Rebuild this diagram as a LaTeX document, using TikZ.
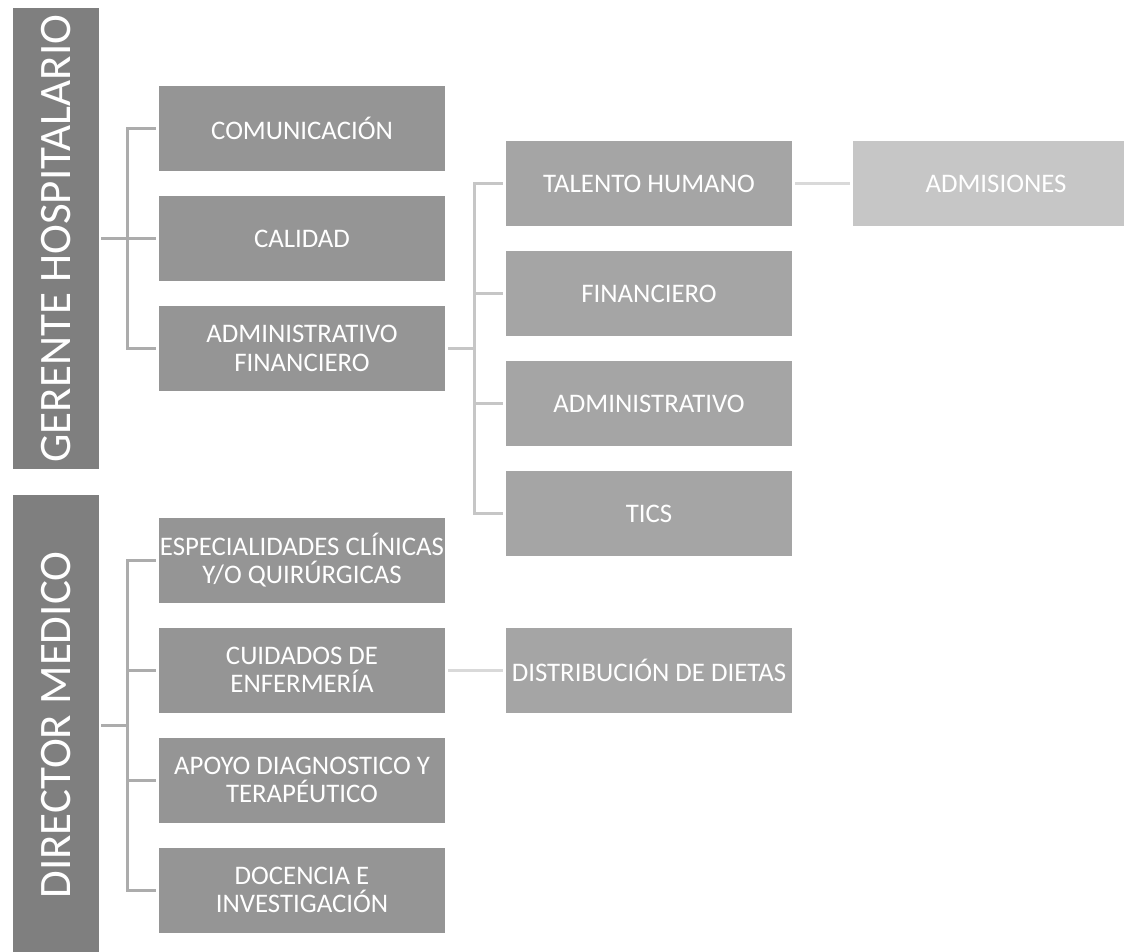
\documentclass[tikz,border=0pt]{standalone}
\usepackage{fontspec}
\setmainfont{Carlito}
\usepackage{tikz}
\usetikzlibrary{positioning}

\definecolor{headgray}{HTML}{7F7F7F}
\definecolor{unitgray}{HTML}{959595}
\definecolor{subgray}{HTML}{A5A5A5}
\definecolor{leafgray}{HTML}{C6C6C6}

\begin{document}
\begin{tikzpicture}[
    node distance=110pt,
    head/.style={
		rectangle,
		rotate=90,
		fill=headgray,
		text=white,
		text centered,
		inner sep=0pt,
		minimum width=461pt,
		minimum height=86pt,
		font=\fontsize{45}{54}\selectfont
	},
	unit/.style={
		rectangle,
		fill=unitgray,
		text=white,
		align=center,
		inner sep=0pt,
		minimum width=286pt,
		minimum height=85pt,
		font=\fontsize{26.8}{28.5}\selectfont
	},
	subunit/.style={
		unit,
		fill=subgray
	},
	leaf/.style={
		unit,
		fill=leafgray
	},
	link/.style={
		line width=3pt,
		draw=#1
	},
	link/.default={gray!65}
  ]

\useasboundingbox (0,0) rectangle (1124pt,-952pt);

% // Gerente hospitalario
 \node [head] (gerente) at (56pt,-238.5pt) {GERENTE HOSPITALARIO};
 \node [unit, right of=gerente, xshift=136pt] (calidad) {CALIDAD};
 \node [unit, above of=calidad] (comunicacion) {COMUNICACIÓN};
 \node [unit, below of=calidad] (adminfin) {ADMINISTRATIVO\\FINANCIERO};

 \draw [link]  ([xshift=2pt]gerente.south) -- ([xshift=-3pt]calidad.west);
 \draw [link]  ([xshift=-3pt]comunicacion.west) -- ++(-28pt,0) |- ([xshift=-3pt]adminfin.west);

% // Administrativo financiero
 \node [subunit, right of=adminfin, xshift=237pt, yshift=165pt] (talento) {TALENTO HUMANO};
 \node [subunit, below of=talento] (financiero) {FINANCIERO};
 \node [subunit, below of=financiero] (administrativo) {ADMINISTRATIVO};
 \node [subunit, below of=administrativo] (tics) {TICS};
 \node [leaf, right of=talento, xshift=237pt] (admisiones) {ADMISIONES};

 \draw [link=gray!45]  ([xshift=3pt]adminfin.east) -- ++(27pt,0);
 \draw [link=gray!45]  ([xshift=-3pt]talento.west) -- ++(-28pt,0) |- ([xshift=-3pt]tics.west);
 \draw [link=gray!45]  ([xshift=-3pt]financiero.west) -- ++(-28pt,0);
 \draw [link=gray!45]  ([xshift=-3pt]administrativo.west) -- ++(-28pt,0);
 \draw [link=gray!30]  ([xshift=3pt]talento.east) -- ([xshift=-3pt]admisiones.west);

% // Director medico
 \node [head] (director) at (56pt,-725pt) {DIRECTOR MEDICO};
 \node [unit, right of=director, xshift=136pt, yshift=165pt] (especialidades) {ESPECIALIDADES CLÍNICAS\\Y/O QUIRÚRGICAS};
 \node [unit, below of=especialidades] (cuidados) {CUIDADOS DE\\ENFERMERÍA};
 \node [unit, below of=cuidados] (apoyo) {APOYO DIAGNOSTICO Y\\TERAPÉUTICO};
 \node [unit, below of=apoyo] (docencia) {DOCENCIA E\\INVESTIGACIÓN};
 \node [subunit, right of=cuidados, xshift=237pt] (distribucion) {DISTRIBUCIÓN DE DIETAS};

 \draw [link]  ([xshift=2pt]director.south) -- ++(27pt,0);
 \draw [link]  ([xshift=-3pt]especialidades.west) -- ++(-28pt,0) |- ([xshift=-3pt]docencia.west);
 \draw [link]  ([xshift=-3pt]cuidados.west) -- ++(-28pt,0);
 \draw [link]  ([xshift=-3pt]apoyo.west) -- ++(-28pt,0);
 \draw [link=gray!30]  ([xshift=3pt]cuidados.east) -- ([xshift=-3pt]distribucion.west);

\end{tikzpicture}
\end{document}
